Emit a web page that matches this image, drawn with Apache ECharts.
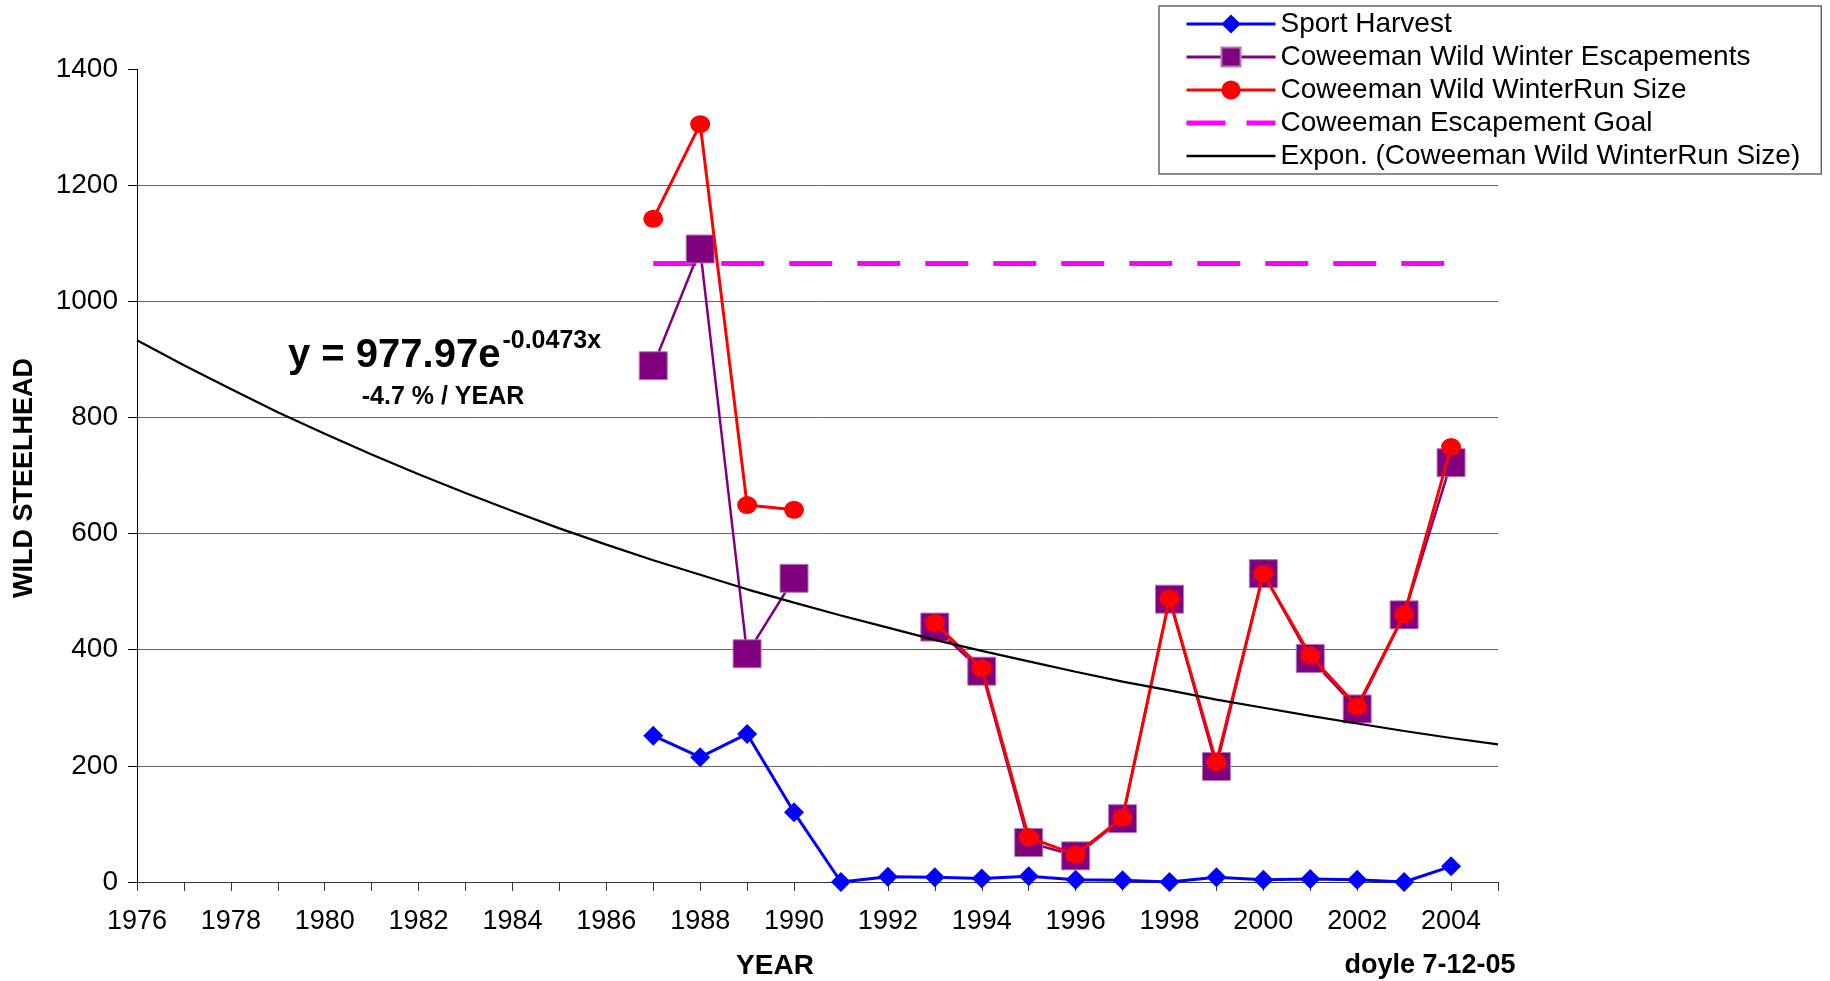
<!DOCTYPE html>
<html>
<head>
<meta charset="utf-8">
<script src="https://cdn.jsdelivr.net/npm/echarts@6/dist/echarts.min.js"></script>
<style>
html,body{margin:0;padding:0;background:#fff;}
#chart{width:1830px;height:981px;}
</style>
</head>
<body>
<div id="chart"></div>
<script>
// ---- data ----
const years = [1987, 1988, 1989, 1990, 1991, 1992, 1993, 1994, 1995, 1996, 1997, 1998, 1999, 2000, 2001, 2002, 2003, 2004];
const sportHarvest = [252, 215, 255, 120, 0, 9, 8, 6, 10, 4, 3, 0, 8, 4, 5, 4, 0, 27];
const escapements = [889, 1090, 393, 523, null, null, 439, 363, 68, 45, 109, 487, 199, 531, 385, 298, 460, 722];
const runSize = [1142, 1305, 649, 641, null, null, 446, 368, 77, 47, 111, 488, 206, 531, 390, 302, 461, 749];
const escapementGoal = [1065, 1065, 1065, 1065, 1065, 1065, 1065, 1065, 1065, 1065, 1065, 1065, 1065, 1065, 1065, 1065, 1065, 1065];
const trendYears = [1976, 1977, 1978, 1979, 1980, 1981, 1982, 1983, 1984, 1985, 1986, 1987, 1988, 1989, 1990, 1991, 1992, 1993, 1994, 1995, 1996, 1997, 1998, 1999, 2000, 2001, 2002, 2003, 2004, 2005];
const trendValues = [933, 890, 849, 809, 772, 736, 702, 670, 639, 609, 581, 554, 529, 504, 481, 459, 438, 417, 398, 380, 362, 345, 330, 314, 300, 286, 273, 260, 248, 237];
const seriesNames = ['Sport Harvest', 'Coweeman Wild Winter Escapements', 'Coweeman Wild WinterRun Size', 'Coweeman Escapement Goal', 'Expon. (Coweeman Wild WinterRun Size)'];
const equationText = 'y = 977.97e';
const equationExp = '-0.0473x';
const rateText = '-4.7 % / YEAR';
const yAxisTitle = 'WILD STEELHEAD';
const xAxisTitle = 'YEAR';
const credit = 'doyle 7-12-05';

function pairs(xs, ys) { return xs.map((x, i) => [x, ys[i]]); }

const FONT = '"Liberation Sans", Arial, Helvetica, sans-serif';
const EQ_FONT = 'bold 40px ' + FONT;
const measureCtx = document.createElement('canvas').getContext('2d');
measureCtx.font = EQ_FONT;
const eqX = 288;
const eqWidth = measureCtx.measureText(equationText).width;

const chart = echarts.init(document.getElementById('chart'), null, {renderer: 'canvas'});

const hiddenSymbol = {color: 'rgba(0,0,0,0)', borderColor: 'rgba(0,0,0,0)', borderWidth: 0, opacity: 0};

chart.setOption({
  animation: false,
  backgroundColor: '#ffffff',
  textStyle: {fontFamily: FONT},
  grid: {left: 137, right: 332, top: 69, bottom: 99, containLabel: false},
  xAxis: {
    type: 'value', min: 1976, max: 2005, interval: 1,
    axisLine: {show: true, lineStyle: {color: '#333', width: 1}},
    axisTick: {show: true, inside: false, length: 9, lineStyle: {color: '#333'}},
    axisLabel: {
      fontSize: 27, color: '#000', fontFamily: FONT, margin: 26,
      formatter: v => (v % 2 === 0 ? String(v) : '')
    },
    splitLine: {show: false}
  },
  yAxis: {
    type: 'value', min: 0, max: 1400, interval: 200,
    axisLine: {show: true, lineStyle: {color: '#000', width: 1}},
    axisTick: {show: true, inside: false, length: 9, lineStyle: {color: '#000'}},
    axisLabel: {fontSize: 28, color: '#000', fontFamily: FONT, margin: 19, formatter: v => String(v)},
    splitLine: {show: true, showMaxLine: false, lineStyle: {color: '#666', width: 1}}
  },
  legend: {
    orient: 'vertical', left: 1159, top: 6,
    padding: [4, 21, 4, 25],
    itemWidth: 89, itemHeight: 24, itemGap: 5,
    backgroundColor: '#fff', borderColor: '#666', borderWidth: 1.5,
    textStyle: {fontSize: 28, lineHeight: 28, color: '#000', fontFamily: FONT},
    data: [
      {name: seriesNames[0], lineStyle: {width: 3}},
      {name: seriesNames[1], lineStyle: {width: 3}},
      {name: seriesNames[2], lineStyle: {width: 3}},
      {name: seriesNames[3], itemStyle: hiddenSymbol, lineStyle: {width: 5, type: [39, 21]}},
      {name: seriesNames[4], itemStyle: hiddenSymbol, lineStyle: {width: 2.5}}
    ]
  },
  series: [
    {
      name: seriesNames[0], type: 'line', z: 3,
      data: pairs(years, sportHarvest),
      symbol: 'diamond', symbolSize: 20,
      lineStyle: {color: '#0000ff', width: 3},
      itemStyle: {color: '#0000ff'}
    },
    {
      name: seriesNames[1], type: 'line', z: 4,
      data: pairs(years, escapements), connectNulls: false,
      symbol: 'rect', symbolSize: 28,
      lineStyle: {color: '#800080', width: 2.5},
      itemStyle: {color: '#800080', borderColor: '#b27ab2', borderWidth: 1}
    },
    {
      name: seriesNames[2], type: 'line', z: 5,
      data: pairs(years, runSize), connectNulls: false,
      symbol: 'circle', symbolSize: [20, 18],
      lineStyle: {color: '#ff0000', width: 3},
      itemStyle: {color: '#ff0000'}
    },
    {
      name: seriesNames[3], type: 'line', z: 1,
      data: pairs(years, escapementGoal),
      symbol: 'none',
      lineStyle: {color: '#ff00ff', width: 5, type: [43, 25]},
      itemStyle: {color: '#ff00ff'}
    },
    {
      name: seriesNames[4], type: 'line', z: 6,
      data: pairs(trendYears, trendValues),
      symbol: 'none', smooth: false,
      lineStyle: {color: '#000', width: 2.2},
      itemStyle: {color: '#000'}
    }
  ],
  graphic: [
    {type: 'text', x: eqX, y: 356, z: 10,
     style: {text: equationText, fill: '#000', font: EQ_FONT, textAlign: 'left', verticalAlign: 'middle'}},
    {type: 'text', x: eqX + eqWidth + 2, y: 341, z: 10,
     style: {text: equationExp, fill: '#000', font: 'bold 25px ' + FONT, textAlign: 'left', verticalAlign: 'middle'}},
    {type: 'text', x: 443, y: 397, z: 10,
     style: {text: rateText, fill: '#000', font: 'bold 25px ' + FONT, textAlign: 'center', verticalAlign: 'middle'}},
    {type: 'text', x: 25, y: 478, rotation: Math.PI / 2, z: 10,
     style: {text: yAxisTitle, fill: '#000', font: 'bold 27px ' + FONT, textAlign: 'center', verticalAlign: 'middle'}},
    {type: 'text', x: 775, y: 966, z: 10,
     style: {text: xAxisTitle, fill: '#000', font: 'bold 28px ' + FONT, textAlign: 'center', verticalAlign: 'middle'}},
    {type: 'text', x: 1430, y: 966, z: 10,
     style: {text: credit, fill: '#000', font: 'bold 27px ' + FONT, textAlign: 'center', verticalAlign: 'middle'}}
  ]
});
</script>
</body>
</html>
